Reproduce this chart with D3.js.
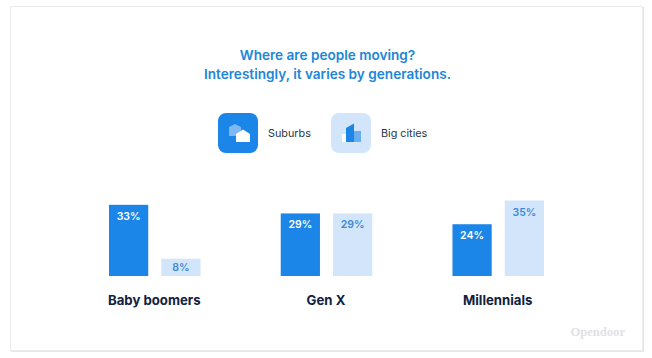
<!DOCTYPE html>
<html>
<head>
<meta charset="utf-8">
<script src="https://cdn.jsdelivr.net/npm/d3@7"></script>
<style>
  html, body { margin: 0; padding: 0; background: #fff; }
  svg { display: block; }
  text { font-family: Inter, "Noto Sans", sans-serif; }
</style>
</head>
<body>
<svg id="chart"></svg>
<script>
const generations = ["Baby boomers", "Gen X", "Millennials"];
const seriesNames = ["Suburbs", "Big cities"];
const suburbs = [33, 29, 24];
const bigCities = [8, 29, 35];
const titleLines = ["Where are people moving?", "Interestingly, it varies by generations."];

const width = 652;
const height = 358;
const baseline = 276;

const blue = "#1c85e8";
const pale = "#d2e5fa";
const navy = "#0f2240";

const svg = d3.select("#chart")
    .attr("width", width)
    .attr("height", height);

// card
svg.append("rect")
    .attr("x", 11)
    .attr("y", 7)
    .attr("width", 633)
    .attr("height", 345)
    .attr("fill", "#e6e6e6");
svg.append("rect")
    .attr("x", 10.5)
    .attr("y", 6.5)
    .attr("width", 632)
    .attr("height", 344)
    .attr("fill", "#fff")
    .attr("stroke", "#ececec");

// title
svg.selectAll(".title")
    .data(titleLines)
    .enter()
    .append("text")
    .attr("class", "title")
    .attr("x", 327.5)
    .attr("y", (d, i) => 59.5 + i * 19.5)
    .attr("text-anchor", "middle")
    .attr("font-size", 13.6)
    .attr("font-weight", 600)
    .attr("fill", "#2086d8")
    .text(d => d);

// scales
const x0 = d3.scaleBand()
    .domain(generations)
    .range([109, 544])
    .paddingInner(0.467);

const x1 = d3.scaleBand()
    .domain(seriesNames)
    .range([0, x0.bandwidth()])
    .paddingInner(0.25);

const y = d3.scaleLinear()
    .domain([0, 35])
    .range([baseline, 200.5]);

const rows = generations.map((g, i) => ({
    generation: g,
    values: [
        { series: seriesNames[0], value: suburbs[i] },
        { series: seriesNames[1], value: bigCities[i] }
    ]
}));

// bars
const groups = svg.selectAll(".group")
    .data(rows)
    .enter()
    .append("g")
    .attr("class", "group")
    .attr("transform", d => "translate(" + x0(d.generation) + ",0)");

groups.selectAll("rect")
    .data(d => d.values)
    .enter()
    .append("rect")
    .attr("x", d => x1(d.series))
    .attr("y", d => y(d.value))
    .attr("width", x1.bandwidth())
    .attr("height", d => baseline - y(d.value))
    .attr("fill", d => d.series === seriesNames[0] ? blue : pale);

// short bars get their label centred instead of hung from the top
groups.selectAll("text")
    .data(d => d.values)
    .enter()
    .append("text")
    .attr("x", d => x1(d.series) + x1.bandwidth() / 2)
    .attr("y", d => y(d.value) + Math.min(15, (baseline - y(d.value)) / 2 + 4))
    .attr("text-anchor", "middle")
    .attr("font-size", 10.5)
    .attr("font-weight", 600)
    .attr("fill", d => d.series === seriesNames[0] ? "#fff" : "#3a8ad6")
    .text(d => d.value + "%");

// group labels
svg.selectAll(".label")
    .data(generations)
    .enter()
    .append("text")
    .attr("class", "label")
    .attr("x", d => x0(d) + x0.bandwidth() / 2 - 0.5)
    .attr("y", 305)
    .attr("text-anchor", "middle")
    .attr("font-size", 13.2)
    .attr("font-weight", 700)
    .attr("fill", navy)
    .text(d => d);

// legend
const legend = svg.selectAll(".legend")
    .data(seriesNames)
    .enter()
    .append("g")
    .attr("class", "legend")
    .attr("transform", (d, i) => "translate(" + (218 + i * 113) + ",113)");

legend.append("rect")
    .attr("width", 40)
    .attr("height", 40)
    .attr("rx", 8)
    .attr("fill", (d, i) => i === 0 ? blue : pale);

legend.append("text")
    .attr("x", 50)
    .attr("y", 23.5)
    .attr("font-size", 10.8)
    .attr("fill", "#2a3548")
    .text(d => d);

// suburbs icon: two little houses
const suburbIcon = legend.filter((d, i) => i === 0);
suburbIcon.append("path")
    .attr("d", "M11 14 L17 11 L23 14 L23 23 L11 23 Z")
    .attr("fill", "#7db8f2");
suburbIcon.append("path")
    .attr("d", "M18 21 L25 16.500 L32 21 L32 29 L18 29 Z")
    .attr("fill", "#fff");

// big cities icon: two towers
const cityIcon = legend.filter((d, i) => i === 1);
cityIcon.append("rect")
    .attr("x", 11).attr("y", 21).attr("width", 4).attr("height", 8)
    .attr("fill", "#fff");
cityIcon.append("path")
    .attr("d", "M15 15 L23 10.500 L23 29 L15 29 Z")
    .attr("fill", blue);
cityIcon.append("rect")
    .attr("x", 23).attr("y", 18).attr("width", 7).attr("height", 11)
    .attr("fill", "#68aef0");

// watermark
svg.append("text")
    .attr("x", 625)
    .attr("y", 336)
    .attr("text-anchor", "end")
    .attr("font-size", 12.6)
    .attr("font-weight", 700)
    .attr("fill", "#dfe1e4")
    .style("font-family", "'Liberation Serif', serif")
    .text("Opendoor");
</script>
</body>
</html>
